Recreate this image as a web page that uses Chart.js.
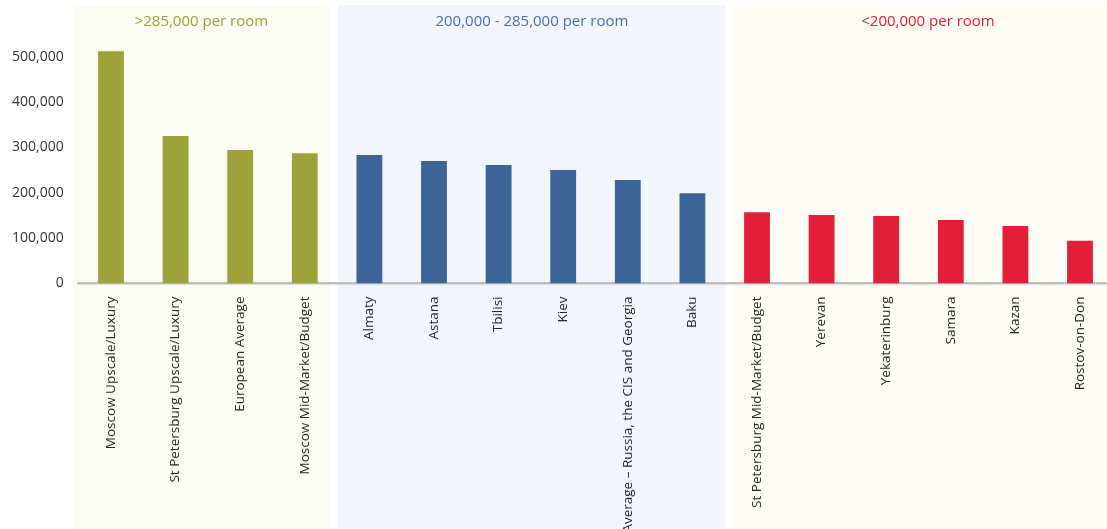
<!DOCTYPE html>
<html>
<head>
<meta charset="utf-8">
<script src="https://cdn.jsdelivr.net/npm/chart.js@4/dist/chart.umd.min.js"></script>
<style>
  html, body { margin: 0; padding: 0; background: #ffffff; overflow: hidden; }
  #wrap { width: 1125px; height: 529px; }
</style>
</head>
<body>
<div id="wrap"><canvas id="c" width="1125" height="529"></canvas></div>
<script>
// Hotel construction cost per room, by market
const categories = [
  'Moscow Upscale/Luxury', 'St Petersburg Upscale/Luxury', 'European Average', 'Moscow Mid-Market/Budget',
  'Almaty', 'Astana', 'Tbilisi', 'Kiev', 'Average \u2013 Russia, the CIS and Georgia', 'Baku',
  'St Petersburg Mid-Market/Budget', 'Yerevan', 'Yekaterinburg', 'Samara', 'Kazan', 'Rostov-on-Don'
];
const costPerRoom = [
  512000, 325000, 294000, 287000,
  283000, 270000, 261000, 250000, 228000, 199000,
  157000, 151000, 149000, 140000, 127000, 94000
];
const groupTitles = ['>285,000 per room', '200,000 - 285,000 per room', '<200,000 per room'];
const groupSizes = [4, 6, 6];
const yTicks = [0, 100000, 200000, 300000, 400000, 500000];

const barColors = ['#9ca339', '#3c6496', '#e21e39'];
const panelColors = ['#fafbf2', '#f2f5fb', '#fdfdf5'];
const titleColors = ['#9ca339', '#4a6fa0', '#e21e39'];

const groupOf = [];
groupSizes.forEach((n, g) => { for (let i = 0; i < n; i++) groupOf.push(g); });

// Shaded group panels behind the bars, each with its heading centred on top
function panelBounds(chart) {
  const x = chart.scales.x;
  const half = (x.getPixelForValue(1) - x.getPixelForValue(0)) / 2;
  const insetL = [-6, 1, 8];
  const insetR = [-7, 1, 11];
  const out = [];
  let start = 0;
  groupSizes.forEach((n, g) => {
    const l = x.getPixelForValue(start) - half + insetL[g];
    const r = x.getPixelForValue(start + n - 1) + half + insetR[g];
    out.push([l, r]);
    start += n;
  });
  return out;
}

const panelsPlugin = {
  id: 'panels',
  beforeDraw(chart) {
    const ctx = chart.ctx;
    ctx.save();
    panelBounds(chart).forEach(([l, r], g) => {
      ctx.fillStyle = panelColors[g];
      ctx.fillRect(l, 5, r - l, 523.5);
    });
    ctx.restore();
  },
  afterDraw(chart) {
    const ctx = chart.ctx;
    ctx.save();
    ctx.font = '15px "Open Sans"';
    ctx.textAlign = 'center';
    ctx.textBaseline = 'middle';
    panelBounds(chart).forEach(([l, r], g) => {
      ctx.fillStyle = titleColors[g];
      ctx.fillText(groupTitles[g], (l + r) / 2, 21.5);
    });
    ctx.restore();
  }
};

new Chart(document.getElementById('c'), {
  type: 'bar',
  data: {
    labels: categories,
    datasets: [{
      data: costPerRoom,
      backgroundColor: groupOf.map(g => barColors[g]),
      barPercentage: 0.4,
      categoryPercentage: 1.0
    }]
  },
  options: {
    responsive: false,
    animation: false,
    layout: { padding: { top: 11.3, right: 12.7, left: 0, bottom: 0 } },
    plugins: { legend: { display: false }, tooltip: { enabled: false } },
    scales: {
      x: {
        grid: { display: false },
        border: { display: true, color: '#bfbfbf', width: 2.5 },
        ticks: {
          autoSkip: false,
          minRotation: 90,
          maxRotation: 90,
          padding: 5,
          color: '#262626',
          font: { family: '"Open Sans"', size: 13.5 }
        },
        afterFit(s) { s.height = 245.5; }
      },
      y: {
        min: 0,
        max: 600000,
        grid: { display: false, drawTicks: false },
        border: { display: false },
        afterBuildTicks(s) { s.ticks = yTicks.map(v => ({ value: v })); },
        ticks: {
          padding: 15,
          color: '#333333',
          font: { family: '"Open Sans"', size: 14 },
          callback: v => v.toLocaleString('en-US')
        },
        afterFit(s) { s.width = 78.7; s.paddingTop = 0; s.paddingBottom = 0; }
      }
    }
  },
  plugins: [panelsPlugin]
});
</script>
</body>
</html>
